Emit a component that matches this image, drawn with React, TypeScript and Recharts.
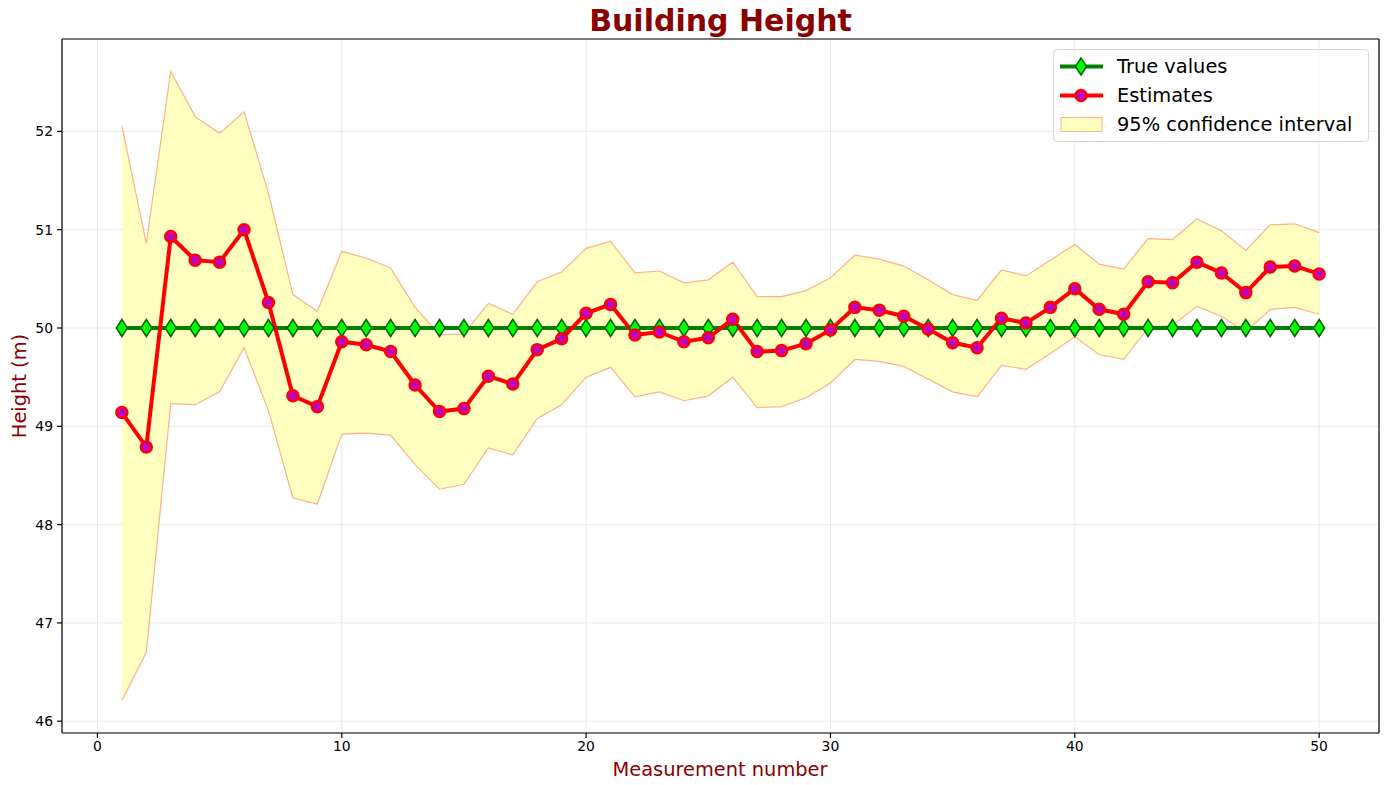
import { Area, CartesianGrid, ComposedChart, Label, Legend, Line, ReferenceLine, XAxis, YAxis } from 'recharts';

const FONT = '"DejaVu Sans", sans-serif';

const measurements = [
  1, 2, 3, 4, 5, 6, 7, 8, 9, 10, 11, 12, 13, 14, 15, 16, 17, 18, 19, 20, 21, 22, 23, 24, 25,
  26, 27, 28, 29, 30, 31, 32, 33, 34, 35, 36, 37, 38, 39, 40, 41, 42, 43, 44, 45, 46, 47, 48, 49, 50,
];
const trueValues = [
  50, 50, 50, 50, 50, 50, 50, 50, 50, 50, 50, 50, 50, 50, 50, 50, 50, 50, 50, 50, 50, 50, 50, 50, 50,
  50, 50, 50, 50, 50, 50, 50, 50, 50, 50, 50, 50, 50, 50, 50, 50, 50, 50, 50, 50, 50, 50, 50, 50, 50,
];
const estimates = [
  49.14, 48.79, 50.93, 50.69, 50.67, 51.0, 50.26, 49.31, 49.2, 49.86, 49.83, 49.76, 49.42, 49.15, 49.18,
  49.51, 49.43, 49.78, 49.89, 50.15, 50.24, 49.93, 49.96, 49.86, 49.9, 50.09, 49.76, 49.77, 49.84, 49.98,
  50.21, 50.18, 50.12, 49.99, 49.85, 49.8, 50.1, 50.05, 50.21, 50.4, 50.19, 50.14, 50.47, 50.46, 50.67,
  50.56, 50.36, 50.62, 50.63, 50.55,
];
const lowerBound = [
  46.21, 46.7, 49.23, 49.22, 49.35, 49.8, 49.16, 48.27, 48.21, 48.92, 48.93, 48.91, 48.61, 48.36, 48.41,
  48.78, 48.71, 49.08, 49.22, 49.5, 49.6, 49.3, 49.35, 49.26, 49.31, 49.5, 49.19, 49.2, 49.29, 49.44,
  49.68, 49.66, 49.61, 49.48, 49.35, 49.3, 49.62, 49.58, 49.74, 49.91, 49.73, 49.68, 50.0, 50.03, 50.22,
  50.12, 49.96, 50.19, 50.21, 50.14,
];
const upperBound = [
  52.06, 50.86, 52.61, 52.15, 51.98, 52.2, 51.37, 50.34, 50.17, 50.78, 50.71, 50.61, 50.21, 49.93, 49.94,
  50.25, 50.14, 50.47, 50.57, 50.81, 50.88, 50.56, 50.58, 50.46, 50.49, 50.67, 50.32, 50.32, 50.38, 50.51,
  50.74, 50.7, 50.63, 50.49, 50.34, 50.28, 50.59, 50.53, 50.69, 50.85, 50.65, 50.6, 50.91, 50.9, 51.11,
  50.99, 50.79, 51.05, 51.06, 50.97,
];
const xTicks = [0, 10, 20, 30, 40, 50];
const yTicks = [46, 47, 48, 49, 50, 51, 52];

const chartData = measurements.map((m, i) => ({
  m,
  truth: trueValues[i],
  estimate: estimates[i],
  ci: [lowerBound[i], upperBound[i]],
}));

const X_DOMAIN = [-1.45, 52.45];
const Y_DOMAIN = [45.88, 52.94];

function Diamond({ cx, cy }: { cx: number; cy: number }) {
  return (
    <polygon
      points={`${cx},${cy - 8.5} ${cx + 5.5},${cy} ${cx},${cy + 8.5} ${cx - 5.5},${cy}`}
      fill="#00ff00"
      stroke="#006400"
      strokeWidth={1.5}
    />
  );
}

function Dot({ cx, cy }: { cx: number; cy: number }) {
  return <circle cx={cx} cy={cy} r={5.5} fill="#bf00bf" stroke="#ff0000" strokeWidth={2.5} />;
}

function LegendBox() {
  const row = { display: 'flex', alignItems: 'center', height: 29 };
  const text = { marginLeft: 3, whiteSpace: 'nowrap' as const };
  return (
    <div
      style={{
        width: 316,
        height: 93,
        boxSizing: 'border-box',
        paddingTop: 2,
        border: '1px solid #d6d6d6',
        borderRadius: 4,
        background: 'rgba(255,255,255,0.8)',
        fontFamily: FONT,
        fontSize: 19.4,
        color: '#000',
      }}
    >
      <div style={row}>
        <svg width={60} height={29}>
          <line x1={6} x2={49} y1={14.5} y2={14.5} stroke="#008000" strokeWidth={4} />
          <Diamond cx={27} cy={14.5} />
        </svg>
        <span style={text}>True values</span>
      </div>
      <div style={row}>
        <svg width={60} height={29}>
          <line x1={6} x2={49} y1={14.5} y2={14.5} stroke="#ff0000" strokeWidth={4} />
          <Dot cx={27} cy={14.5} />
        </svg>
        <span style={text}>Estimates</span>
      </div>
      <div style={row}>
        <svg width={60} height={29}>
          <rect x={7} y={7.5} width={41} height={14} fill="#ffffc0" stroke="#ffb08a" strokeWidth={1} />
        </svg>
        <span style={text}>95% confidence interval</span>
      </div>
    </div>
  );
}

export default function App() {
  const tickStyle = { fill: '#000', fontSize: 13.9, fontFamily: FONT };
  return (
    <div style={{ position: 'absolute', left: 0, top: 0, width: 1392, height: 785, background: '#fff' }}>
      <div
        style={{
          position: 'absolute',
          top: 6,
          left: 62,
          width: 1317,
          textAlign: 'center',
          fontFamily: FONT,
          fontWeight: 'bold',
          fontSize: 30,
          lineHeight: '30px',
          color: '#8b0000',
          zIndex: 2,
        }}
      >
        Building Height
      </div>
      <ComposedChart width={1392} height={785} data={chartData} margin={{ top: 39, right: 13, bottom: 0, left: 0 }}>
        <CartesianGrid stroke="#e8e8e8" strokeWidth={1} />
        <XAxis
          dataKey="m"
          type="number"
          domain={X_DOMAIN}
          ticks={xTicks}
          allowDataOverflow
          height={52}
          tickSize={5}
          tickMargin={3}
          tick={tickStyle}
          stroke="#000"
          strokeWidth={1.2}
        >
          <Label
            content={() => (
              <text x={720} y={776} textAnchor="middle" fill="#8b0000" fontSize={19.4} fontFamily={FONT}>
                Measurement number
              </text>
            )}
          />
        </XAxis>
        <YAxis
          type="number"
          domain={Y_DOMAIN}
          ticks={yTicks}
          allowDataOverflow
          width={62}
          tickSize={5}
          tickMargin={4}
          tick={tickStyle}
          stroke="#000"
          strokeWidth={1.2}
        >
          <Label
            content={() => (
              <text
                x={19}
                y={386}
                transform="rotate(-90 19 386)"
                textAnchor="middle"
                dominantBaseline="central"
                fill="#8b0000"
                fontSize={19.4}
                fontFamily={FONT}
              >
                Height (m)
              </text>
            )}
          />
        </YAxis>
        <ReferenceLine x={X_DOMAIN[1]} stroke="#000" strokeWidth={1.2} />
        <ReferenceLine y={Y_DOMAIN[1]} stroke="#000" strokeWidth={1.2} />
        <Area
          dataKey="ci"
          type="linear"
          fill="#ffffc0"
          fillOpacity={1}
          stroke="#ffb08a"
          strokeWidth={1.2}
          isAnimationActive={false}
        />
        <Line
          dataKey="truth"
          type="linear"
          stroke="#008000"
          strokeWidth={4}
          dot={(p: any) => <Diamond key={`d-${p.index}`} cx={p.cx} cy={p.cy} />}
          activeDot={false}
          isAnimationActive={false}
        />
        <Line
          dataKey="estimate"
          type="linear"
          stroke="#ff0000"
          strokeWidth={4}
          dot={(p: any) => <Dot key={`e-${p.index}`} cx={p.cx} cy={p.cy} />}
          activeDot={false}
          isAnimationActive={false}
        />
        <Legend
          layout="vertical"
          align="center"
          verticalAlign="middle"
          content={() => <LegendBox />}
          wrapperStyle={{ position: 'absolute', top: 49, left: 1053, width: 316, height: 93 }}
        />
      </ComposedChart>
    </div>
  );
}
